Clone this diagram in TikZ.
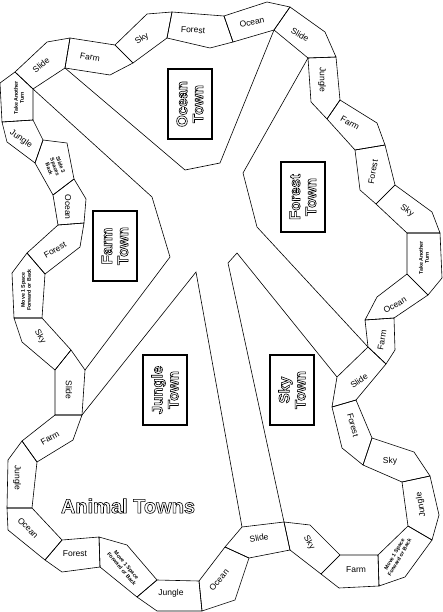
\documentclass[tikz,border=0pt]{standalone}
\usepackage{fontspec}
\setsansfont{Liberation Sans}
\newcommand{\tilefont}{\sffamily\fontsize{8.5}{9}\selectfont}
\newcommand{\notefont}{\sffamily\bfseries\fontsize{5.3}{6}\selectfont}
\newcommand{\hollow}[1]{\special{pdf:literal direct 1 Tr 0.6 w}#1\special{pdf:literal direct 0 Tr}}
\tikzstyle{tile} = [line width=0.6pt, line join=round]
\tikzstyle{word} = [inner sep=0pt, align=center, font=\tilefont]
\tikzstyle{note} = [word, font=\notefont]
\tikzstyle{town} = [rectangle, draw, line width=1.6pt, rotate=90, minimum width=70pt, minimum height=44pt, inner sep=2pt, align=center, font=\sffamily\bfseries\fontsize{15}{16}\selectfont]
\tikzstyle{road} = [line width=0.6pt]

\begin{document}
\begin{tikzpicture}[x=1pt,y=-1pt]
\useasboundingbox (0,0) rectangle (443,612);
% joints between the spaces, outer and inner end
\coordinate (j0o) at (2,122);    \coordinate (j0i) at (33,120);
\coordinate (j1o) at (15,72);    \coordinate (j1i) at (33,89);
\coordinate (j2o) at (70,38);    \coordinate (j2i) at (65,68);
\coordinate (j3o) at (115,45);   \coordinate (j3i) at (133,63);
\coordinate (j4o) at (172,12);   \coordinate (j4i) at (167,38);
\coordinate (j5o) at (224,16);   \coordinate (j5i) at (233,42);
\coordinate (j6o) at (290,7);    \coordinate (j6i) at (274,30);
\coordinate (j7o) at (336,57);   \coordinate (j7i) at (308,58);
\coordinate (j8o) at (340,100);  \coordinate (j8i) at (327,119);
\coordinate (j9o) at (385,145);  \coordinate (j9i) at (355,150);
\coordinate (j10o) at (395,185); \coordinate (j10i) at (376,204);
\coordinate (j11o) at (440,233); \coordinate (j11i) at (407,233);
\coordinate (j12o) at (428,295); \coordinate (j12i) at (407,274);
\coordinate (j13o) at (394,318); \coordinate (j13i) at (365,320);
\coordinate (j14o) at (386,364); \coordinate (j14i) at (368,347);
\coordinate (j15o) at (356,400); \coordinate (j15i) at (332,407);
\coordinate (j16o) at (372,438); \coordinate (j16i) at (363,465);
\coordinate (j17o) at (430,476); \coordinate (j17i) at (402,482);
\coordinate (j18o) at (432,540); \coordinate (j18i) at (408,526);
\coordinate (j19o) at (379,586); \coordinate (j19i) at (378,555);
\coordinate (j20o) at (321,574); \coordinate (j20i) at (340,555);
\coordinate (j21o) at (290,550); \coordinate (j21i) at (284,522);
\coordinate (j22o) at (249,558); \coordinate (j22i) at (225,547);
\coordinate (j23o) at (202,611); \coordinate (j23i) at (199,581);
\coordinate (j24o) at (137,597); \coordinate (j24i) at (157,580);
\coordinate (j25o) at (100,567); \coordinate (j25i) at (99,537);
\coordinate (j26o) at (45,560);  \coordinate (j26i) at (62,540);
\coordinate (j27o) at (7,508);   \coordinate (j27i) at (32,508);
\coordinate (j28o) at (22,441);  \coordinate (j28i) at (37,462);
\coordinate (j29o) at (55,415);  \coordinate (j29i) at (82,415);
\coordinate (j30o) at (55,370);  \coordinate (j30i) at (71,350);
\coordinate (j31o) at (14,318);  \coordinate (j31i) at (42,318);
\coordinate (j32o) at (27,253);  \coordinate (j32i) at (45,274);
\coordinate (j33o) at (58,225);  \coordinate (j33i) at (84,223);
\coordinate (j34o) at (53,195);  \coordinate (j34i) at (74,179);
\coordinate (j35o) at (35,163);  \coordinate (j35i) at (43,140);
% corners where the roads leave the track
\coordinate (sc) at (337,377);
\coordinate (sd) at (242,527);
\coordinate (se) at (85,370);

% roads between the towns
\draw [road] (j2i) -- (185,170) -- (220,163) -- (j6i);
\draw [road] (j1i) -- (152,197) -- (170,257) -- (se);
\draw [road] (j7i) -- (243,173) -- (257,227) -- (j14i);
\draw [road] (j29i) -- (196,272) -- (sd);
\draw [road] (sc) -- (237,253) -- (228,263) -- (j21i);

% the spaces of the track
\draw [tile] (j0o) -- (0,83) -- (j1o) -- (j1i) -- (j0i) -- cycle;
\draw [tile] (j1o) -- (47,42) -- (j2o) -- (j2i) -- (j1i) -- cycle;
\draw [tile] (j2o) -- (j3o) -- (j3i) -- (110,75) -- (j2i) -- cycle;
\draw [tile] (j3o) -- (147,14) -- (j4o) -- (j4i) -- (j3i) -- cycle;
\draw [tile] (j4o) -- (j5o) -- (j5i) -- (210,48) -- (j4i) -- cycle;
\draw [tile] (j5o) -- (267,2) -- (j6o) -- (j6i) -- (j5i) -- cycle;
\draw [tile] (j6o) -- (325,32) -- (j7o) -- (j7i) -- (j6i) -- cycle;
\draw [tile] (j7o) -- (j8o) -- (j8i) -- (311,102) -- (j7i) -- cycle;
\draw [tile] (j8o) -- (377,123) -- (j9o) -- (j9i) -- (j8i) -- cycle;
\draw [tile] (j9o) -- (j10o) -- (j10i) -- (360,190) -- (j9i) -- cycle;
\draw [tile] (j10o) -- (432,212) -- (j11o) -- (j11i) -- (j10i) -- cycle;
\draw [tile] (j11o) -- (442,278) -- (j12o) -- (j12i) -- (j11i) -- cycle;
\draw [tile] (j12o) -- (j13o) -- (j13i) -- (377,297) -- (j12i) -- cycle;
\draw [tile] (j13o) -- (395,350) -- (j14o) -- (j14i) -- (j13i) -- cycle;
\draw [tile] (j14o) -- (j15o) -- (j15i) -- (sc) -- (j14i) -- cycle;
\draw [tile] (j15o) -- (j16o) -- (j16i) -- (342,448) -- (j15i) -- cycle;
\draw [tile] (j16o) -- (414,452) -- (j17o) -- (j17i) -- (j16i) -- cycle;
\draw [tile] (j17o) -- (439,515) -- (j18o) -- (j18i) -- (j17i) -- cycle;
\draw [tile] (j18o) -- (405,577) -- (j19o) -- (j19i) -- (j18i) -- cycle;
\draw [tile] (j19o) -- (339,588) -- (j20o) -- (j20i) -- (j19i) -- cycle;
\draw [tile] (j20o) -- (j21o) -- (j21i) -- (310,525) -- (j20i) -- cycle;
\draw [tile] (j21o) -- (j22o) -- (j22i) -- (sd) -- (j21i) -- cycle;
\draw [tile] (j22o) -- (235,600) -- (j23o) -- (j23i) -- (j22i) -- cycle;
\draw [tile] (j23o) -- (157,611) -- (j24o) -- (j24i) -- (j23i) -- cycle;
\draw [tile] (j24o) -- (j25o) -- (j25i) -- (127,545) -- (j24i) -- cycle;
\draw [tile] (j25o) -- (62,572) -- (j26o) -- (j26i) -- (j25i) -- cycle;
\draw [tile] (j26o) -- (8,530) -- (j27o) -- (j27i) -- (j26i) -- cycle;
\draw [tile] (j27o) -- (8,460) -- (j28o) -- (j28i) -- (j27i) -- cycle;
\draw [tile] (j28o) -- (j29o) -- (j29i) -- (73,440) -- (j28i) -- cycle;
\draw [tile] (j29o) -- (j30o) -- (j30i) -- (se) -- (j29i) -- cycle;
\draw [tile] (j30o) -- (22,342) -- (j31o) -- (j31i) -- (j30i) -- cycle;
\draw [tile] (j31o) -- (12,273) -- (j32o) -- (j32i) -- (j31i) -- cycle;
\draw [tile] (j32o) -- (j33o) -- (j33i) -- (80,247) -- (j32i) -- cycle;
\draw [tile] (j33o) -- (j34o) -- (j34i) -- (86,199) -- (j33i) -- cycle;
\draw [tile] (j34o) -- (j35o) -- (j35i) -- (67,143) -- (j34i) -- cycle;
\draw [tile] (j35o) -- (7,142) -- (j0o) -- (j0i) -- (j35i) -- cycle;

% words on the spaces
\node [note, rotate=90] at (19,98) (tatA) {Take Another\\Turn};
\node [word, rotate=40] at (41,65) (slideA) {Slide};
\node [word, rotate=-10] at (90,57) (farmA) {Farm};
\node [word, rotate=35] at (142,39) (skyA) {Sky};
\node [word, rotate=-3] at (193,30) (forestA) {Forest};
\node [word, rotate=12] at (252,22) (oceanA) {Ocean};
\node [word, rotate=-30] at (300,35) (slideB) {Slide};
\node [word, rotate=-90] at (322,80) (jungleA) {Jungle};
\node [word, rotate=-30] at (350,123) (farmB) {Farm};
\node [word, rotate=80] at (373,172) (forestB) {Forest};
\node [word, rotate=-35] at (407,211) (skyB) {Sky};
\node [note, rotate=90] at (424,258) (tatB) {Take Another\\Turn};
\node [word, rotate=30] at (395,305) (oceanB) {Ocean};
\node [word, rotate=80] at (382,340) (farmC) {Farm};
\node [word, rotate=35] at (359,381) (slideC) {Slide};
\node [word, rotate=-75] at (353,425) (forestC) {Forest};
\node [word] at (390,461) (skyC) {Sky};
\node [word, rotate=100] at (421,505) (jungleB) {Jungle};
\node [note, rotate=60] at (397,556) (moveA) {Move 1 Space\\Forward or Back};
\node [word] at (356,570) (farmD) {Farm};
\node [word, rotate=-60] at (309,543) (skyD) {Sky};
\node [word, rotate=10] at (259,538) (slideD) {Slide};
\node [word, rotate=50] at (219,580) (oceanC) {Ocean};
\node [word] at (171,593) (jungleC) {Jungle};
\node [note, rotate=-50] at (124,567) (moveB) {Move 1 Space\\Forward or Back};
\node [word] at (75,554) (forestD) {Forest};
\node [word, rotate=-45] at (28,528) (oceanD) {Ocean};
\node [word, rotate=-90] at (17,478) (jungleD) {Jungle};
\node [word, rotate=30] at (50,438) (farmE) {Farm};
\node [word, rotate=-90] at (69,390) (slideE) {Slide};
\node [word, rotate=-60] at (40,337) (skyE) {Sky};
\node [note, rotate=90] at (26,290) (moveC) {Move 1 Space\\Forward or Back};
\node [word, rotate=30] at (55,250) (forestE) {Forest};
\node [word, rotate=-90] at (68,207) (oceanE) {Ocean};
\node [note, rotate=-70] at (55,167) (backA) {Slide 3\\Spaces\\Back};
\node [word, rotate=-35] at (21,139) (jungleE) {Jungle};

% towns
\node [town] at (190,104) (oceanT) {\hollow{Ocean}\\\hollow{Town}};
\node [town] at (303,197) (forestT) {\hollow{Forest}\\\hollow{Town}};
\node [town] at (115,246) (farmT) {\hollow{Farm}\\\hollow{Town}};
\node [town] at (165,390) (jungleT) {\hollow{Jungle}\\\hollow{Town}};
\node [town] at (292,390) (skyT) {\hollow{Sky}\\\hollow{Town}};
\node [font=\sffamily\bfseries\fontsize{20}{22}\selectfont] at (128,506) (title) {\hollow{Animal Towns}};
\end{tikzpicture}
\end{document}
